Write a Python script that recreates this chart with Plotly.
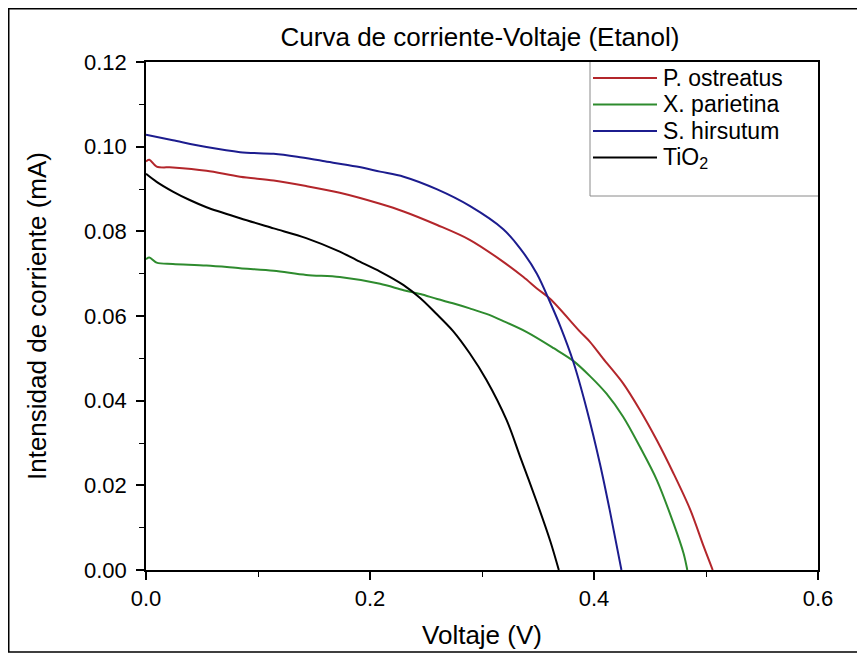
import plotly.graph_objects as go

# ---- Data ----
v_post = [0, 0.003, 0.0095, 0.024, 0.054, 0.084, 0.114, 0.143, 0.173, 0.209, 0.230,
          0.260, 0.289, 0.319, 0.337, 0.349, 0.361, 0.3875, 0.3964, 0.408, 0.426,
          0.441, 0.456, 0.471, 0.486, 0.498, 0.506]
i_post = [0.0965, 0.0969, 0.0953, 0.0951, 0.0943, 0.0929, 0.0920, 0.0907, 0.0891, 0.0865,
          0.0847, 0.0815, 0.0780, 0.0728, 0.0692, 0.0665, 0.0640, 0.0563, 0.0539, 0.0500,
          0.0441, 0.0378, 0.0307, 0.0228, 0.0142, 0.0055, 0.0]

v_xpar = [0, 0.003, 0.0095, 0.024, 0.054, 0.084, 0.114, 0.143, 0.173, 0.209, 0.230,
          0.245, 0.260, 0.274, 0.289, 0.304, 0.319, 0.340, 0.364, 0.3815, 0.3964,
          0.411, 0.426, 0.441, 0.456, 0.471, 0.480, 0.4833]
i_xpar = [0.0734, 0.0738, 0.0726, 0.0723, 0.0719, 0.0713, 0.0707, 0.0697, 0.0692, 0.0676,
          0.0661, 0.0652, 0.0640, 0.0630, 0.0618, 0.0605, 0.0588, 0.0562, 0.0524, 0.0494,
          0.0458, 0.0417, 0.0362, 0.0291, 0.0213, 0.0110, 0.0039, 0.0]

v_shir = [0, 0.024, 0.054, 0.084, 0.114, 0.135, 0.158, 0.188, 0.209, 0.230, 0.260,
          0.289, 0.319, 0.334, 0.349, 0.3607, 0.370, 0.3815, 0.3935, 0.4054, 0.4143, 0.4245]
i_shir = [0.1028, 0.1015, 0.0999, 0.0987, 0.0983, 0.0976, 0.0966, 0.0953, 0.0941, 0.0929,
          0.0899, 0.0860, 0.0805, 0.0760, 0.0700, 0.0633, 0.0575, 0.0492, 0.0380, 0.0250,
          0.0138, 0.0]

v_tio2 = [0, 0.0095, 0.024, 0.039, 0.054, 0.084, 0.114, 0.143, 0.173, 0.188, 0.209,
          0.230, 0.245, 0.259, 0.274, 0.289, 0.304, 0.322, 0.334, 0.349, 0.361, 0.3686]
i_tio2 = [0.0936, 0.0917, 0.0894, 0.0874, 0.0857, 0.0831, 0.0807, 0.0784, 0.0752, 0.0732,
          0.0705, 0.0673, 0.0642, 0.0606, 0.0565, 0.0512, 0.0449, 0.0354, 0.0268, 0.0160,
          0.0068, 0.0]

names = ["P. ostreatus", "X. parietina", "S. hirsutum", "TiO<sub>2</sub>"]
colors = ["#B3262B", "#2E8B2E", "#1C1C8E", "#000000"]
series = [(v_post, i_post), (v_xpar, i_xpar), (v_shir, i_shir), (v_tio2, i_tio2)]

FONT = "Arial, Liberation Sans, sans-serif"

# figure sits 8px inside the page (body margin), so size it to fill the rest
W, H = 857, 650
ML, MR, MT, MB = 138, 47, 54, 88
PW, PH = W - ML - MR, H - MT - MB


def px_x(wx):   # window pixel -> paper x
    return (wx - 8 - ML) / PW


def px_y(wy):   # window pixel -> paper y
    return (MT + PH - (wy - 8)) / PH


fig = go.Figure()
for (vx, iy), nm, col in zip(series, names, colors):
    fig.add_trace(go.Scatter(x=vx, y=iy, name=nm, mode="lines", showlegend=False,
                             line=dict(color=col, width=2, shape="spline", smoothing=0.9)))

axis_common = dict(showline=True, linecolor="black", linewidth=1.5, mirror=True,
                   ticks="outside", ticklen=8, tickwidth=1.5, tickcolor="black",
                   showgrid=False, zeroline=False,
                   tickfont=dict(family=FONT, size=22, color="black"))

fig.update_xaxes(range=[0, 0.6], dtick=0.2, tick0=0, tickformat=".1f",
                 minor=dict(ticks="outside", ticklen=5, dtick=0.1, tickcolor="black", tickwidth=1.2),
                 title=dict(text="Voltaje (V)", font=dict(family=FONT, size=26, color="black"), standoff=16),
                 **axis_common)
fig.update_yaxes(range=[0, 0.12], dtick=0.02, tick0=0, tickformat=".2f",
                 minor=dict(ticks="outside", ticklen=5, dtick=0.01, tickcolor="black", tickwidth=1.2),
                 ticklabelstandoff=5,
                 title=dict(text="Intensidad de corriente (mA)", font=dict(family=FONT, size=26, color="black"), standoff=30),
                 **axis_common)

fig.update_layout(
    width=W, height=H,
    margin=dict(l=ML, r=MR, t=MT, b=MB, autoexpand=False),
    paper_bgcolor="white", plot_bgcolor="white",
    title=dict(text="Curva de corriente-Voltaje (Etanol)", x=472 / W, xanchor="center",
               y=1 - 29 / H, yanchor="middle", xref="container", yref="container",
               font=dict(family=FONT, size=26, color="black")),
    showlegend=False,
)

# ---- legend box (drawn as decoration in the top-right corner) ----
leg_left, leg_bottom = px_x(590), px_y(196)
fig.add_shape(type="rect", xref="paper", yref="paper", x0=leg_left, x1=1, y0=leg_bottom, y1=1,
              line=dict(width=0), fillcolor="white", layer="below")
fig.add_shape(type="line", xref="paper", yref="paper", x0=leg_left, x1=leg_left, y0=leg_bottom, y1=1,
              line=dict(color="#8a8a8a", width=1))
fig.add_shape(type="line", xref="paper", yref="paper", x0=leg_left, x1=1, y0=leg_bottom, y1=leg_bottom,
              line=dict(color="#8a8a8a", width=1))
row_y = [78, 104.5, 131, 157.5]
for nm, col, ry in zip(names, colors, row_y):
    fig.add_shape(type="line", xref="paper", yref="paper", x0=px_x(593), x1=px_x(657),
                  y0=px_y(ry), y1=px_y(ry), line=dict(color=col, width=2))
    fig.add_annotation(xref="paper", yref="paper", x=px_x(662), y=px_y(ry), text=nm,
                       xanchor="left", yanchor="middle", showarrow=False,
                       height=24, borderpad=0, valign="middle",
                       font=dict(family=FONT, size=23, color="black"))

# outer frame around the whole figure
fig.add_shape(type="rect", xref="paper", yref="paper",
              x0=(0.75 - ML) / PW, x1=(851 - ML) / PW,
              y0=(MT + PH - 644) / PH, y1=(MT + PH - 0.75) / PH,
              line=dict(color="black", width=1.5), fillcolor="rgba(0,0,0,0)", layer="above")

fig.write_html("out.html")
